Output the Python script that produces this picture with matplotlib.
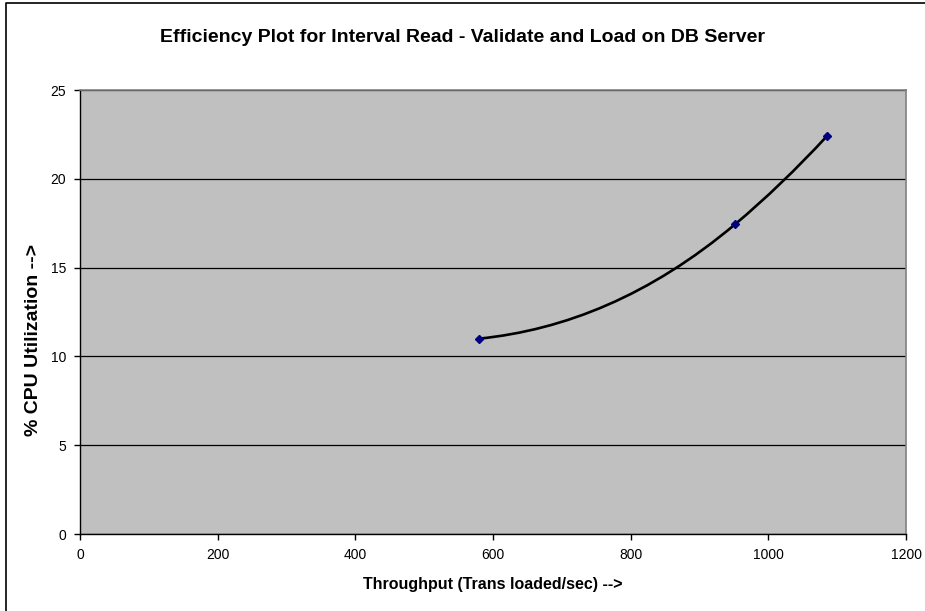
import matplotlib.pyplot as plt
from matplotlib.path import Path
from matplotlib.patches import PathPatch
from matplotlib.lines import Line2D

plt.rcParams['font.family'] = ['Liberation Sans', 'DejaVu Sans']

throughput = [580, 952, 1085]
cpu_util = [11.0, 17.45, 22.4]

x_ticks = [0, 200, 400, 600, 800, 1000, 1200]
y_ticks = [0, 5, 10, 15, 20, 25]

# slope of the smoothed line at each point (shape of excel's smoothing)
slopes = [0.004, 0.0326, 0.042]


def smooth_path(xs, ys, ms):
    # cubic hermite segments written as bezier curves
    verts = [(xs[0], ys[0])]
    codes = [Path.MOVETO]
    for i in range(len(xs) - 1):
        h = (xs[i + 1] - xs[i]) / 3
        verts += [(xs[i] + h, ys[i] + ms[i] * h),
                  (xs[i + 1] - h, ys[i + 1] - ms[i + 1] * h),
                  (xs[i + 1], ys[i + 1])]
        codes += [Path.CURVE4] * 3
    return Path(verts, codes)


fig = plt.figure(figsize=(9.25, 6.11), dpi=100)
ax = fig.add_axes([80 / 925, 1 - 534 / 611, 826 / 925, 444 / 611])
ax.set_facecolor('#c0c0c0')

ax.add_patch(PathPatch(smooth_path(throughput, cpu_util, slopes), fill=False,
                       edgecolor='black', lw=1.9, zorder=3))
ax.plot(throughput, cpu_util, linestyle='none', marker='D', markersize=4.5,
        color='#000080', zorder=4)

ax.set_xlim(0, 1200)
ax.set_ylim(0, 25)
ax.set_xticks(x_ticks)
ax.set_yticks(y_ticks)
ax.yaxis.grid(True, color='black', lw=0.9)
ax.set_axisbelow(True)
ax.tick_params(direction='out', length=4, width=1, labelsize=10, pad=6)

for s in ['top', 'right']:
    ax.spines[s].set_color('#808080')
    ax.spines[s].set_linewidth(1.2)
for s in ['left', 'bottom']:
    ax.spines[s].set_color('black')
    ax.spines[s].set_linewidth(1.0)

ax.set_xlabel('Throughput (Trans loaded/sec) -->', fontsize=11.5, fontweight='bold', labelpad=11)
fig.text(34 / 925, 1 - 340 / 611, '% CPU Utilization -->', rotation=90,
         ha='center', va='center', fontsize=14, fontweight='bold')
fig.text(0.5, 1 - 38 / 611, 'Efficiency Plot for Interval Read - Validate and Load on DB Server',
         ha='center', va='center', fontsize=14, fontweight='bold')

# chart frame: only the left and top edges fall inside the picture
fig.lines.append(Line2D([6 / 925, 6 / 925, 1.0], [0.0, 1 - 3 / 611, 1 - 3 / 611],
                        transform=fig.transFigure, color='black', lw=1.2))

plt.savefig('out.png', dpi=100)
